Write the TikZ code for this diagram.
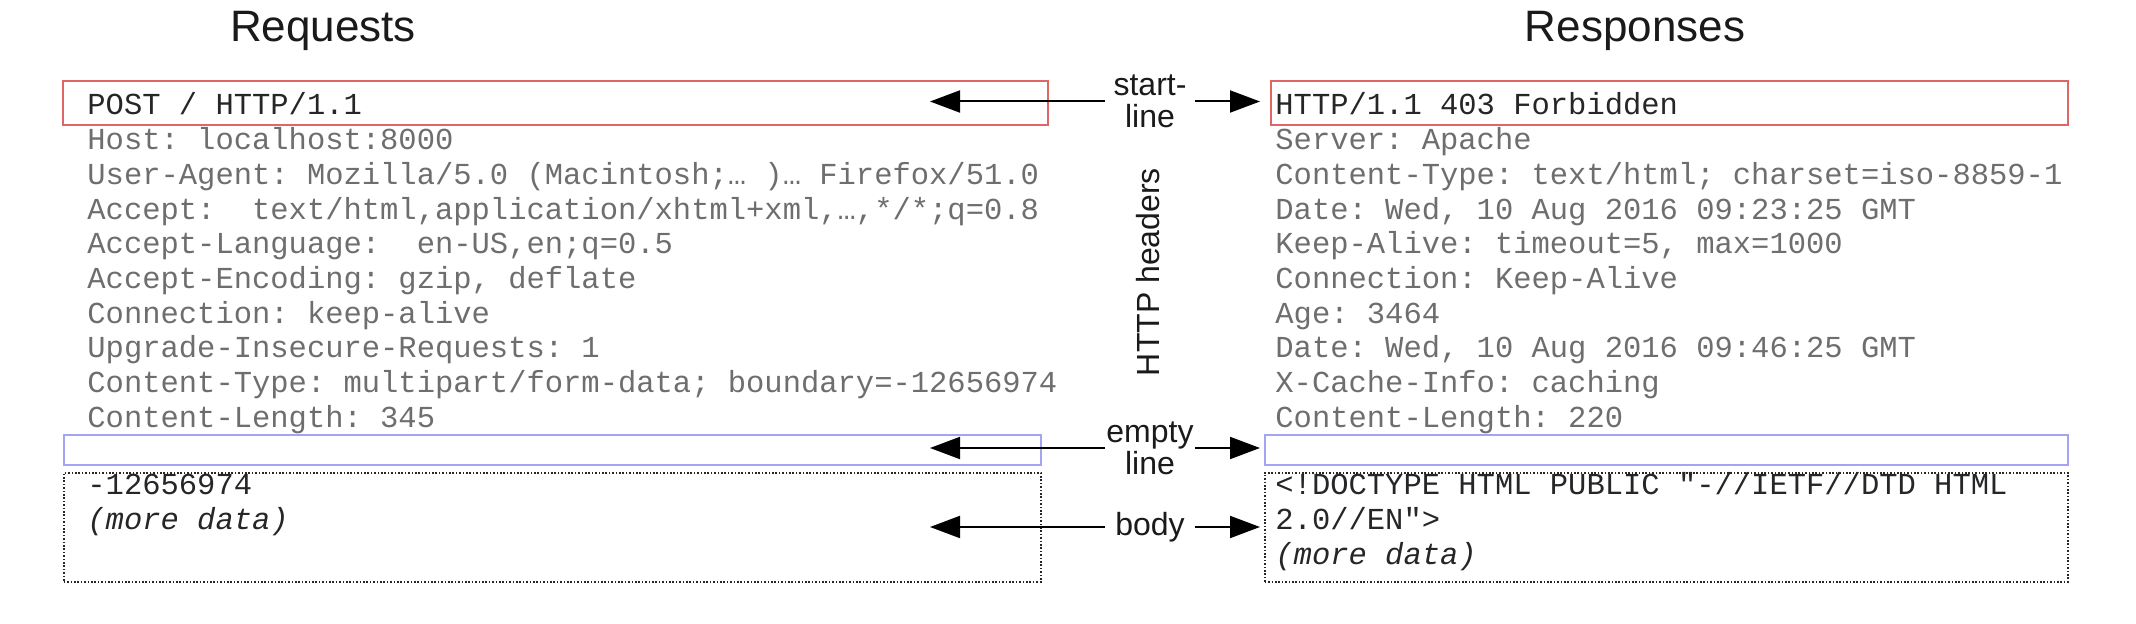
\documentclass[tikz,border=0pt]{standalone}
\usepackage{fontspec}
\setsansfont{Liberation Sans}
\setmonofont{Liberation Mono}
\usetikzlibrary{arrows.meta}
\definecolor{startRed}{HTML}{E06666}
\definecolor{emptyBlue}{HTML}{A4A4F2}
\definecolor{headerGray}{HTML}{6E6E6E}
\definecolor{msgBlack}{HTML}{262626}
\definecolor{titleBlack}{HTML}{1A1A1A}
\tikzset{
  msg line/.style={anchor=base west, inner sep=0pt, text=msgBlack,
    font=\ttfamily\fontsize{15.25}{17}\selectfont},
  header line/.style={msg line, text=headerGray},
  col title/.style={anchor=base, inner sep=0pt, text=titleBlack,
    font=\sffamily\fontsize{22}{22}\selectfont},
  part label/.style={align=center, inner sep=0pt, minimum width=44.5pt,
    text=titleBlack, font=\sffamily\fontsize{16}{16}\selectfont},
  part arrow/.style={-{Triangle[length=15pt,width=11pt]}, line width=1pt},
  part box/.style={anchor=north west, inner sep=0pt, line width=0.8pt},
  start box/.style={part box, draw=startRed},
  empty box/.style={part box, draw=emptyBlue},
  body box/.style={part box, draw=black!85, line width=0.8pt,
    dash pattern=on 0.8pt off 0.9pt},
}

\begin{document}
\begin{tikzpicture}[x=0.5pt, y=-0.5pt]
\useasboundingbox (0,0) rectangle (2136,624);

% Column titles
\node[col title] (reqTitle) at (323,42) {Requests};
\node[col title] (resTitle) at (1635,42) {Responses};

% Request: start-line, empty line and body boxes
\node[start box, minimum width=492.5pt, minimum height=22pt] (reqStart) at (62,80) {};
\node[empty box, minimum width=488.5pt, minimum height=15pt] (reqEmpty) at (63,434) {};
\node[body box, minimum width=488.5pt, minimum height=54.5pt] (reqBody) at (63,472) {};

% Response: the same three boxes
\node[start box, minimum width=398.5pt, minimum height=22pt] (resStart) at (1270,80) {};
\node[empty box, minimum width=401.5pt, minimum height=15pt] (resEmpty) at (1264,434) {};
\node[body box, minimum width=401.5pt, minimum height=54.5pt] (resBody) at (1264,472) {};

% Request text
\node[msg line] (reqLine) at (87,115) {POST / HTTP/1.1};
\foreach \txt [count=\i] in {%
    {Host: localhost:8000},
    {User-Agent: Mozilla/5.0 (Macintosh;… )… Firefox/51.0},
    {Accept:\ \ text/html,application/xhtml+xml,…,*/*;q=0.8},
    {Accept-Language:\ \ en-US,en;q=0.5},
    {Accept-Encoding: gzip, deflate},
    {Connection: keep-alive},
    {Upgrade-Insecure-Requests: 1},
    {Content-Type: multipart/form-data; boundary=-12656974},
    {Content-Length: 345}}
  \node[header line] (reqHdr\i) at (87,{115+34.7*\i}) {\txt};
\node[msg line] (reqData) at (87,495) {-12656974};
\node[msg line, font=\ttfamily\itshape\fontsize{15.25}{17}\selectfont] (reqMore) at (87,530) {(more data)};

% Response text
\node[msg line] (resLine) at (1275,115) {HTTP/1.1 403 Forbidden};
\foreach \txt [count=\i] in {%
    {Server: Apache},
    {Content-Type: text/html; charset=iso-8859-1},
    {Date: Wed, 10 Aug 2016 09:23:25 GMT},
    {Keep-Alive: timeout=5, max=1000},
    {Connection: Keep-Alive},
    {Age: 3464},
    {Date: Wed, 10 Aug 2016 09:46:25 GMT},
    {X-Cache-Info: caching},
    {Content-Length: 220}}
  \node[header line] (resHdr\i) at (1275,{115+34.7*\i}) {\txt};
\node[msg line] (resDoc) at (1275,495) {<!DOCTYPE HTML PUBLIC "-//IETF//DTD HTML};
\node[msg line] (resDocEnd) at (1275,530) {2.0//EN">};
\node[msg line, font=\ttfamily\itshape\fontsize{15.25}{17}\selectfont] (resMore) at (1275,564.5) {(more data)};

% Middle labels
\node[part label] (lblStart) at (1150,101.5) {start-\\line};
\node[part label, rotate=90, minimum width=0pt] (lblHeaders) at (1148,272) {HTTP headers};
\node[part label] (lblEmpty) at (1150,448) {empty\\line};
\node[part label] (lblBody) at (1150,527) {body};

% Arrows from the labels to both messages
\coordinate (reqTip) at (930,0);
\coordinate (resTip) at (1260,0);
\foreach \lbl in {lblStart,lblEmpty,lblBody} {
  \draw[part arrow] (\lbl.west) -- (\lbl.west -| reqTip);
  \draw[part arrow] (\lbl.east) -- (\lbl.east -| resTip);
}

\end{tikzpicture}
\end{document}
